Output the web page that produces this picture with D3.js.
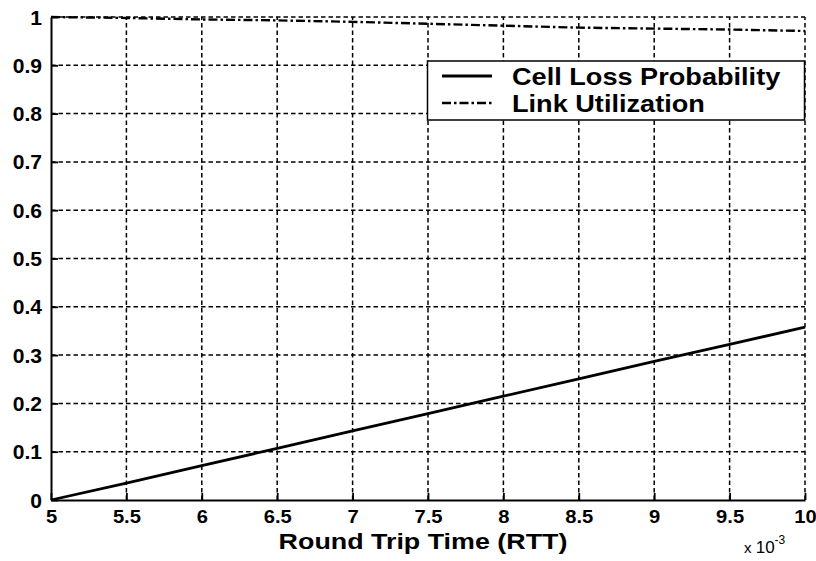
<!DOCTYPE html>
<html>
<head>
<meta charset="utf-8">
<script src="https://cdn.jsdelivr.net/npm/d3@7"></script>
<style>
  html, body { margin: 0; padding: 0; background: #fff; }
  svg { display: block; }
  text { font-family: "Liberation Sans", Arial, sans-serif; fill: #000; }
</style>
</head>
<body>
<svg id="chart" width="816" height="561"></svg>
<script>
// ---- data (RTT in units of 10^-3) ----
const rtt = [5, 5.5, 6, 6.5, 7, 7.5, 8, 8.5, 9, 9.5, 10];
const cellLoss = [0, 0.035, 0.071, 0.107, 0.143, 0.179, 0.215, 0.251, 0.287, 0.322, 0.358];
const linkUtil = [1.0, 0.998, 0.995, 0.993, 0.990, 0.986, 0.982, 0.978, 0.976, 0.974, 0.971];
const xTicks = [5, 5.5, 6, 6.5, 7, 7.5, 8, 8.5, 9, 9.5, 10];
const xTickLabels = ["5", "5.5", "6", "6.5", "7", "7.5", "8", "8.5", "9", "9.5", "10"];
const yTicks = [0, 0.1, 0.2, 0.3, 0.4, 0.5, 0.6, 0.7, 0.8, 0.9, 1];
const yTickLabels = ["0", "0.1", "0.2", "0.3", "0.4", "0.5", "0.6", "0.7", "0.8", "0.9", "1"];
const seriesNames = ["Cell Loss Probability", "Link Utilization"];
const xLabel = "Round Trip Time (RTT)";

const svg = d3.select("#chart");
const L = 51, R = 805, T = 17, B = 500;
const x = d3.scaleLinear().domain([5, 10]).range([L, R]);
const y = d3.scaleLinear().domain([0, 1]).range([B, T]);

function stretch(sel, f) {
  sel.each(function () {
    const w = this.getComputedTextLength();
    d3.select(this).attr("textLength", w * f).attr("lengthAdjust", "spacingAndGlyphs");
  });
}

// grid
const grid = svg.append("g").attr("stroke", "#000").attr("stroke-width", 1.5)
  .attr("stroke-dasharray", "4.5,3").attr("fill", "none");
grid.selectAll(".gx").data(xTicks.slice(1)).join("line")
  .attr("x1", d => x(d)).attr("x2", d => x(d)).attr("y1", B).attr("y2", T);
grid.selectAll(".gy").data(yTicks.slice(1)).join("line")
  .attr("x1", L).attr("x2", R).attr("y1", d => y(d)).attr("y2", d => y(d));

// axes
const xAxis = d3.axisBottom(x).tickValues(xTicks)
  .tickFormat((d, i) => xTickLabels[i]).tickSizeInner(-7).tickSizeOuter(0).tickPadding(12);
const gx = svg.append("g").attr("transform", `translate(0,${B})`).call(xAxis);
gx.select(".domain").attr("stroke", "#000").attr("stroke-width", 2);
gx.selectAll(".tick line").attr("stroke", "#000").attr("stroke-width", 1.8);
gx.selectAll(".tick text").attr("font-size", 18).attr("font-weight", "bold")
  .attr("font-family", "Liberation Sans, Arial, sans-serif").attr("fill", "#000")
  .attr("y", 23).attr("dy", 0).call(stretch, 1.12);

const yAxis = d3.axisLeft(y).tickValues(yTicks)
  .tickFormat((d, i) => yTickLabels[i]).tickSizeInner(-7).tickSizeOuter(0).tickPadding(9);
const gy = svg.append("g").attr("transform", `translate(${L},0)`).call(yAxis);
gy.select(".domain").attr("stroke", "#000").attr("stroke-width", 2);
gy.selectAll(".tick line").attr("stroke", "#000").attr("stroke-width", 1.8);
gy.selectAll(".tick text").attr("font-size", 19.5).attr("font-weight", "bold")
  .attr("font-family", "Liberation Sans, Arial, sans-serif").attr("fill", "#000")
  .attr("x", -9).attr("dy", "0.36em").call(stretch, 1.08);

// lines
const lineGen = vals => d3.line().x((d, i) => x(rtt[i])).y(d => y(d))(vals);
svg.append("path").attr("d", lineGen(cellLoss)).attr("fill", "none")
  .attr("stroke", "#000").attr("stroke-width", 2.8);
svg.append("path").attr("d", lineGen(linkUtil)).attr("fill", "none")
  .attr("stroke", "#000").attr("stroke-width", 2.4).attr("stroke-dasharray", "9,3,2.5,3");

// axis label
svg.append("text").attr("x", (L + R) / 2 - 5).attr("y", 549).attr("text-anchor", "middle")
  .attr("font-size", 22).attr("font-weight", "bold").text(xLabel).call(stretch, 1.22);

// exponent
const ex = svg.append("text").attr("x", 744).attr("y", 553).attr("font-size", 17);
ex.append("tspan").attr("font-size", 15).text("x ");
ex.append("tspan").text("10");
ex.append("tspan").attr("dy", -9).attr("font-size", 12).text("-3");

// legend
const lg = svg.append("g");
lg.append("rect").attr("x", 427.5).attr("y", 61).attr("width", 377).attr("height", 59)
  .attr("fill", "#fff").attr("stroke", "#000").attr("stroke-width", 1.5);
const legY = [76, 103];
const legStyles = [{ w: 2.8, dash: null }, { w: 2.4, dash: "9,3,2.5,3" }];
seriesNames.forEach((name, i) => {
  lg.append("line").attr("x1", 442).attr("x2", 492).attr("y1", legY[i]).attr("y2", legY[i])
    .attr("stroke", "#000").attr("stroke-width", legStyles[i].w)
    .attr("stroke-dasharray", legStyles[i].dash);
  lg.append("text").attr("x", 512).attr("y", legY[i] + 9).attr("font-size", 24)
    .attr("font-weight", "bold").text(name).call(stretch, 1.13);
});
</script>
</body>
</html>
